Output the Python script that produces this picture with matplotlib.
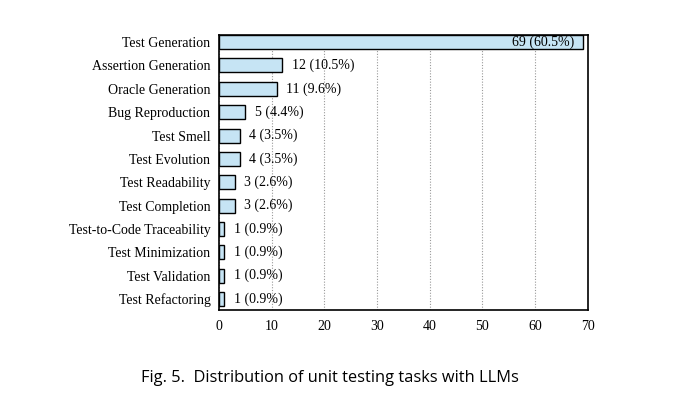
import matplotlib.pyplot as plt

tasks = ["Test Generation", "Assertion Generation", "Oracle Generation", "Bug Reproduction",
         "Test Smell", "Test Evolution", "Test Readability", "Test Completion",
         "Test-to-Code Traceability", "Test Minimization", "Test Validation", "Test Refactoring"]
counts = [69, 12, 11, 5, 4, 4, 3, 3, 1, 1, 1, 1]
pcts = [60.5, 10.5, 9.6, 4.4, 3.5, 3.5, 2.6, 2.6, 0.9, 0.9, 0.9, 0.9]
xticks = [0, 10, 20, 30, 40, 50, 60, 70]

plt.rcParams['font.family'] = ['Liberation Serif', 'DejaVu Serif']

fig = plt.figure(figsize=(6.99, 4.08), dpi=100)
ax = fig.add_axes([0.313, 0.240, 0.528, 0.674])

y = list(range(len(tasks)))
ax.barh(y, counts, height=0.6, color='#c6e4f4', edgecolor='black', linewidth=1.0, zorder=3)

for i, (c, p) in enumerate(zip(counts, pcts)):
    lab = f"{c} ({p}%)"
    if c > 50:
        ax.text(c - 1.6, i, lab, ha='right', va='center', fontsize=10, zorder=4)
    else:
        ax.text(c + 1.8, i, lab, ha='left', va='center', fontsize=10, zorder=4)

ax.set_xlim(0, 70)
ax.set_ylim(11.47, -0.3)
ax.set_yticks(y)
ax.set_yticklabels(tasks, fontsize=10)
ax.set_xticks(xticks)
ax.set_xticklabels([str(t) for t in xticks], fontsize=10)
ax.tick_params(length=0, pad=6)
ax.tick_params(axis='x', pad=7)
ax.grid(axis='x', linestyle=(0, (1, 1.5)), color='#999999', linewidth=0.8, zorder=0)
for s in ax.spines.values():
    s.set_linewidth(1.2)

fig.text(0.472, 0.074, "Fig. 5.  Distribution of unit testing tasks with LLMs",
         ha='center', va='center', fontsize=11.8, family=['Open Sans', 'DejaVu Sans'])

fig.savefig("out.png", dpi=100)
